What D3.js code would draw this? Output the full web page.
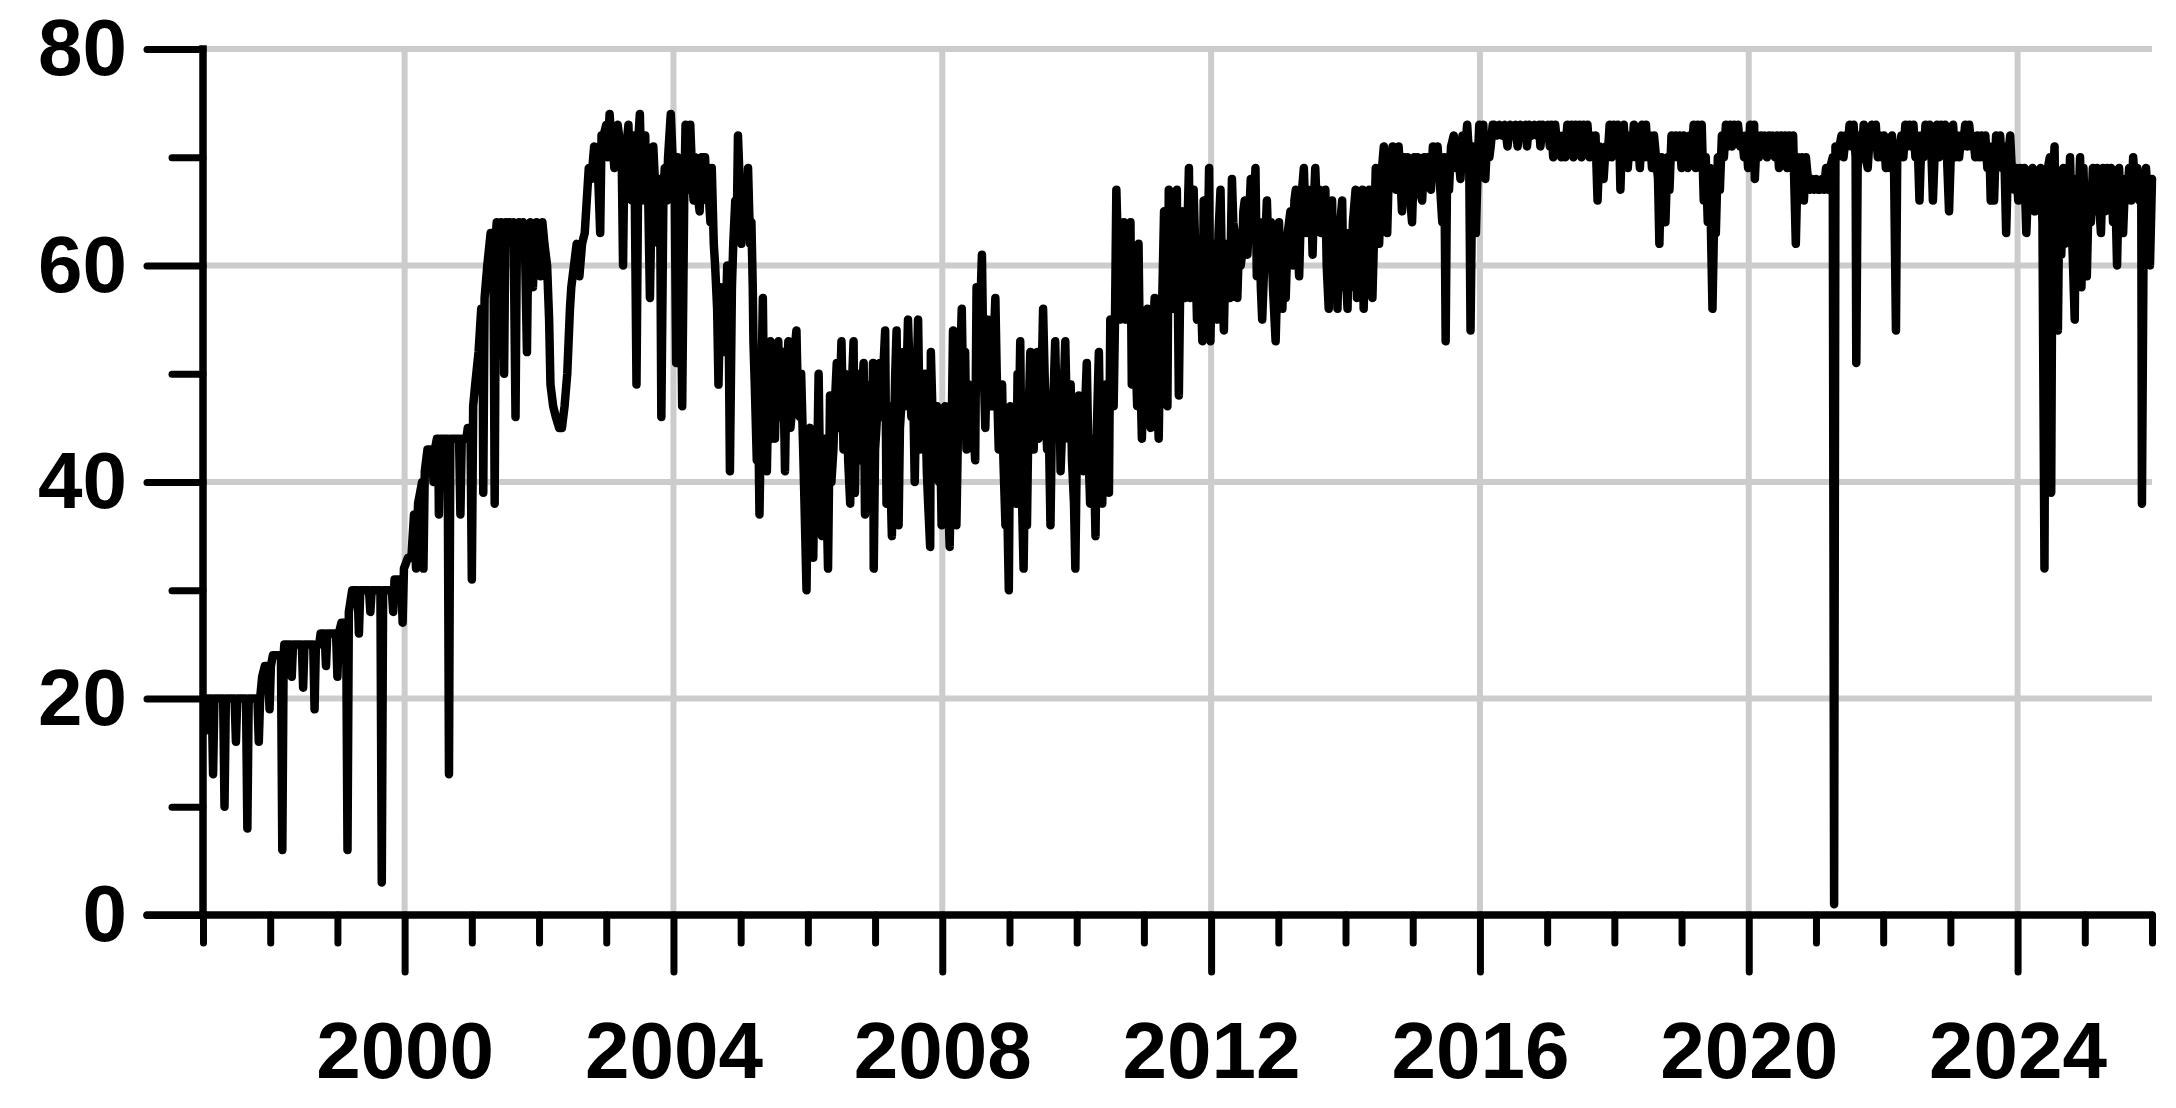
<!DOCTYPE html>
<html>
<head>
<meta charset="utf-8">
<script src="https://cdn.jsdelivr.net/npm/d3@7"></script>
<style>
  html, body { margin: 0; padding: 0; background: #ffffff; }
  svg { display: block; }
  text { font-family: "Liberation Sans", Arial, sans-serif; font-weight: bold; }
</style>
</head>
<body>
<svg id="chart" width="2176" height="1108"></svg>
<script>
// ---- Data: [decimal year, value] ----
const obs1997_1999 = [
  [1997.03,17],[1997.05,18],[1997.07,20],[1997.13,20],[1997.15,13],[1997.17,20],[1997.30,20],[1997.32,10],[1997.34,20],
  [1997.47,20],[1997.49,16],[1997.51,20],[1997.64,20],[1997.66,8],[1997.68,20],[1997.81,20],[1997.83,16],[1997.85,20],
  [1997.88,22],[1997.92,23],[1997.97,23],[1997.99,19],[1998.01,23],[1998.04,24],[1998.16,24],[1998.18,6],[1998.20,24],
  [1998.21,25],[1998.30,25],[1998.32,22],[1998.34,25],[1998.47,25],[1998.49,21],[1998.51,25],[1998.64,25],[1998.66,19],
  [1998.68,25],[1998.73,25],[1998.75,26],[1998.81,26],[1998.83,23],[1998.85,26],[1998.98,26],[1999.00,22],[1999.02,26],
  [1999.06,27],[1999.13,27],[1999.15,6],[1999.17,28],[1999.22,30],[1999.30,30],[1999.32,26],[1999.34,30],[1999.47,30],
  [1999.49,28],[1999.51,30],[1999.64,30],[1999.66,3],[1999.68,30],[1999.81,30],[1999.83,28],[1999.85,31],[1999.95,31],
  [1999.97,27],[1999.99,32]
];
const obs2000_2001 = [
  [2000.05,33],[2000.10,33],[2000.14,37],[2000.17,32],[2000.20,38],[2000.26,40],[2000.28,32],[2000.30,41],[2000.34,43],
  [2000.41,43],[2000.43,40],[2000.45,43],[2000.48,44],[2000.50,44],[2000.51,37],[2000.53,44],[2000.64,44],[2000.66,13],
  [2000.68,44],[2000.81,44],[2000.83,37],[2000.85,44],[2000.92,44],[2000.94,45],[2000.98,45],[2001.00,31],[2001.02,47],
  [2001.05,49],[2001.10,52],[2001.14,56],[2001.16,56],[2001.17,39],[2001.19,57],[2001.23,60],[2001.28,63],[2001.32,63],
  [2001.34,38],[2001.36,63],[2001.37,64],[2001.40,62],[2001.43,64],[2001.46,63],[2001.48,50],[2001.50,64],[2001.53,62],
  [2001.56,64],[2001.59,62],[2001.62,64],[2001.65,46],[2001.67,62],[2001.70,64],[2001.73,62],[2001.76,64],[2001.79,62],
  [2001.82,52],[2001.84,62],[2001.87,64],[2001.89,62],[2001.91,58],[2001.93,62],[2001.96,64],[2001.98,63],[2002.02,59],
  [2002.05,64],[2002.08,62]
];
const obs2002_2004 = [
  [2002.12,60],[2002.15,55],[2002.17,49],[2002.21,47],[2002.25,46],[2002.30,45],[2002.34,45],[2002.38,47],[2002.42,50],
  [2002.46,56],[2002.48,58],[2002.52,60],[2002.56,62],[2002.60,59],[2002.64,62],[2002.68,63],[2002.71,66],[2002.74,69],
  [2002.78,68],[2002.82,71],[2002.87,70],[2002.91,63],[2002.93,72],[2002.96,72],[2003.00,73],[2003.02,70],[2003.05,74],
  [2003.07,72],[2003.10,71],[2003.12,69],[2003.15,72],[2003.17,73],[2003.19,72],[2003.23,70],[2003.25,60],[2003.27,70],
  [2003.30,71],[2003.33,73],[2003.35,68],[2003.38,66],[2003.40,72],[2003.42,70],[2003.45,49],[2003.48,72],[2003.50,74],
  [2003.53,66],[2003.56,70],[2003.58,72],[2003.60,66],[2003.62,68],[2003.65,57],[2003.68,68],[2003.70,71],[2003.73,67],
  [2003.75,64],[2003.78,62],[2003.80,68],[2003.82,46],[2003.85,66],[2003.87,69],[2003.90,66],[2003.92,70],[2003.94,72],
  [2003.96,74],[2004.00,68],[2004.02,66],[2004.04,51],[2004.06,70],[2004.08,68],[2004.10,66],[2004.13,47],[2004.16,66],
  [2004.18,73],[2004.20,70],[2004.22,67],[2004.25,73],[2004.28,68],[2004.30,66],[2004.32,70],[2004.35,68],[2004.37,66],
  [2004.39,65],[2004.42,70]
];
const obs2004_2008 = [
  [2004.47,70],[2004.50,66],[2004.52,67],[2004.55,64],[2004.57,69],[2004.60,62],[2004.62,60],[2004.65,56],[2004.67,49],
  [2004.70,58],[2004.72,57],[2004.74,52],[2004.77,53],[2004.80,60],[2004.82,56],[2004.84,41],[2004.87,58],[2004.89,62],
  [2004.92,66],[2004.94,63],[2004.96,72],[2004.99,67],[2005.01,62],[2005.03,68],[2005.06,67],[2005.09,63],[2005.11,69],
  [2005.14,62],[2005.16,64],[2005.18,58],[2005.19,53],[2005.21,49],[2005.24,42],[2005.26,47],[2005.28,37],[2005.30,45],
  [2005.33,57],[2005.35,46],[2005.37,50],[2005.39,41],[2005.41,48],[2005.44,53],[2005.46,44],[2005.48,50],[2005.51,44],
  [2005.53,49],[2005.56,53],[2005.58,46],[2005.61,46],[2005.63,52],[2005.66,41],[2005.68,49],[2005.71,53],[2005.74,45],
  [2005.77,47],[2005.80,52],[2005.83,54],[2005.85,48],[2005.88,46],[2005.90,50],[2005.93,43],[2005.95,38],[2005.98,30],
  [2006.00,41],[2006.03,45],[2006.05,36],[2006.08,33],[2006.10,42],[2006.13,38],[2006.16,50],[2006.18,41],[2006.21,35],
  [2006.23,44],[2006.26,44],[2006.28,38],[2006.30,32],[2006.33,48],[2006.35,40],[2006.38,43],[2006.40,47],[2006.43,51],
  [2006.46,45],[2006.48,49],[2006.50,53],[2006.53,43],[2006.55,50],[2006.58,48],[2006.60,42],[2006.63,38],[2006.65,48],
  [2006.68,53],[2006.70,39],[2006.73,50],[2006.75,46],[2006.78,42],[2006.80,48],[2006.83,51],[2006.85,37],[2006.88,47],
  [2006.90,44],[2006.93,49],[2006.95,45],[2006.97,51],[2006.98,32],[2007.00,43],[2007.02,45],[2007.05,49],[2007.07,51],
  [2007.10,46],[2007.12,50],[2007.15,54],[2007.17,38],[2007.19,45],[2007.21,47],[2007.23,40],[2007.25,35],[2007.28,44],
  [2007.30,50],[2007.32,54],[2007.35,36],[2007.37,45],[2007.40,48],[2007.42,52],[2007.44,47],[2007.47,50],[2007.49,55],
  [2007.52,49],[2007.54,46],[2007.56,51],[2007.59,40],[2007.61,47],[2007.64,55],[2007.67,43],[2007.69,48],[2007.72,45],
  [2007.74,50],[2007.77,41],[2007.79,38],[2007.82,34],[2007.83,52],[2007.86,45],[2007.89,42],[2007.92,47],[2007.95,40],
  [2007.97,44],[2007.99,36],[2008.02,43],[2008.04,47],[2008.07,40],[2008.09,38],[2008.11,34],[2008.14,45],[2008.16,54],
  [2008.19,44],[2008.21,36],[2008.24,47],[2008.26,50],[2008.29,56],[2008.31,48],[2008.34,52],[2008.36,43],[2008.39,49],
  [2008.41,45],[2008.44,48],[2008.47,44],[2008.49,42],[2008.51,58],[2008.54,52],[2008.56,55],[2008.59,61],[2008.61,52],
  [2008.64,45],[2008.66,50],[2008.68,55],[2008.71,47]
];
const obs2008_2012 = [
  [2008.74,47],[2008.76,52],[2008.79,57],[2008.81,50],[2008.84,43],[2008.86,46],[2008.89,49],[2008.91,42],[2008.94,36],
  [2008.96,40],[2008.99,30],[2009.01,47],[2009.04,40],[2009.06,45],[2009.08,44],[2009.10,38],[2009.12,50],[2009.14,45],
  [2009.16,53],[2009.18,40],[2009.21,32],[2009.23,41],[2009.26,36],[2009.28,45],[2009.31,52],[2009.33,46],[2009.36,43],
  [2009.38,48],[2009.41,52],[2009.43,44],[2009.46,45],[2009.48,50],[2009.50,56],[2009.53,48],[2009.56,43],[2009.58,47],
  [2009.61,36],[2009.63,45],[2009.66,49],[2009.68,53],[2009.70,47],[2009.72,45],[2009.74,50],[2009.76,41],[2009.79,46],
  [2009.81,49],[2009.83,53],[2009.85,47],[2009.87,44],[2009.89,46],[2009.91,49],[2009.93,42],[2009.96,38],[2009.98,32],
  [2010.00,42],[2010.03,48],[2010.05,44],[2010.08,47],[2010.10,41],[2010.12,46],[2010.15,51],[2010.17,44],[2010.20,38],
  [2010.22,43],[2010.25,44],[2010.28,35],[2010.30,45],[2010.33,52],[2010.35,44],[2010.38,38],[2010.40,45],[2010.43,49],
  [2010.45,42],[2010.48,39],[2010.50,55],[2010.52,50],[2010.55,47],[2010.57,55],[2010.59,67],[2010.62,60],[2010.65,55],
  [2010.67,59],[2010.70,64],[2010.73,55],[2010.75,62],[2010.78,60],[2010.80,64],[2010.82,49],[2010.84,55],[2010.86,58],
  [2010.88,51],[2010.90,47],[2010.92,62],[2010.94,52],[2010.97,44],[2010.99,50],[2011.01,52],[2011.03,47],[2011.05,56],
  [2011.08,50],[2011.10,45],[2011.12,51],[2011.14,54],[2011.16,57],[2011.19,50],[2011.22,44],[2011.24,52],[2011.27,56],
  [2011.30,65],[2011.32,55],[2011.35,47],[2011.37,67],[2011.40,60],[2011.42,56],[2011.45,63],[2011.47,59],[2011.49,67],
  [2011.52,48],[2011.54,58],[2011.56,62],[2011.58,65],[2011.61,57],[2011.63,58],[2011.65,64],[2011.67,69],[2011.69,57],
  [2011.72,63],[2011.74,67],[2011.77,60],[2011.79,55],[2011.81,61],[2011.83,62],[2011.85,57],[2011.87,53],[2011.89,66],
  [2011.92,60],[2011.94,58],[2011.97,69],[2011.99,53],[2012.01,60],[2012.04,62],[2012.06,58],[2012.09,55],[2012.11,63],
  [2012.14,67],[2012.16,60],[2012.19,54],[2012.21,60],[2012.24,62],[2012.26,58],[2012.28,57],[2012.31,68],[2012.33,64],
  [2012.35,63],[2012.37,60],[2012.39,57],[2012.42,63],[2012.44,60],[2012.46,61],[2012.48,65],[2012.50,66],[2012.52,62],
  [2012.54,61],[2012.57,65],[2012.59,68],[2012.62,63],[2012.64,66],[2012.66,69],[2012.68,59],[2012.70,62],[2012.72,64],
  [2012.74,58],[2012.76,55],[2012.79,60],[2012.81,63],[2012.83,66],[2012.86,60]
];
const obs2012_2016 = [
  [2012.89,64],[2012.92,58],[2012.96,53],[2012.99,60],[2013.01,64],[2013.04,58],[2013.06,56],[2013.09,62],[2013.11,57],
  [2013.14,63],[2013.18,65],[2013.21,60],[2013.24,66],[2013.26,67],[2013.29,62],[2013.31,59],[2013.34,66],[2013.38,69],
  [2013.41,63],[2013.44,67],[2013.46,63],[2013.49,66],[2013.51,61],[2013.53,66],[2013.55,69],[2013.58,64],[2013.61,67],
  [2013.63,63],[2013.66,66],[2013.70,67],[2013.72,60],[2013.75,56],[2013.77,63],[2013.80,66],[2013.82,58],[2013.84,60],
  [2013.86,64],[2013.88,56],[2013.91,63],[2013.95,66],[2013.97,58],[2014.00,60],[2014.03,56],[2014.05,63],[2014.08,58],
  [2014.11,64],[2014.15,67],[2014.17,57],[2014.20,64],[2014.22,60],[2014.25,67],[2014.27,56],[2014.30,63],[2014.33,60],
  [2014.35,67],[2014.38,62],[2014.40,57],[2014.43,64],[2014.45,69],[2014.48,65],[2014.50,62],[2014.53,68],[2014.57,71],
  [2014.60,66],[2014.62,63],[2014.65,70],[2014.67,68],[2014.70,71],[2014.73,68],[2014.75,67],[2014.79,71],[2014.82,68],
  [2014.84,65],[2014.87,70],[2014.90,68],[2014.92,70],[2014.95,67],[2014.99,64],[2015.02,70],[2015.05,68],[2015.07,70],
  [2015.10,67],[2015.14,66],[2015.17,70],[2015.20,68],[2015.22,70],[2015.25,68],[2015.27,67],[2015.30,71],[2015.33,69],
  [2015.37,71],[2015.40,68],[2015.44,64],[2015.47,70],[2015.49,53],[2015.51,68],[2015.54,67],[2015.57,71],[2015.61,72],
  [2015.64,69],[2015.67,71],[2015.71,68],[2015.74,72],[2015.77,70],[2015.81,73],[2015.84,70],[2015.86,54],[2015.89,71],
  [2015.92,68],[2015.94,63],[2015.97,70],[2015.99,73],[2016.02,71],[2016.05,73],[2016.08,68],[2016.11,72],[2016.14,70],
  [2016.16,71],[2016.19,73],[2016.21,73],[2016.25,72],[2016.29,73],[2016.33,72],[2016.37,73],[2016.41,71],[2016.45,73],
  [2016.49,72],[2016.53,73],[2016.56,71],[2016.60,73],[2016.64,72],[2016.68,73],[2016.70,71],[2016.73,73],[2016.77,72],
  [2016.81,73],[2016.85,72],[2016.88,73],[2016.90,71],[2016.93,73],[2016.97,72],[2017.01,73],[2017.04,71]
];
const obs2017_2020 = [
  [2017.06,73],[2017.09,70],[2017.12,73],[2017.15,71],[2017.18,72],[2017.21,70],[2017.24,72],[2017.27,70],[2017.30,73],
  [2017.33,71],[2017.36,73],[2017.39,70],[2017.42,73],[2017.45,71],[2017.48,73],[2017.51,70],[2017.54,73],[2017.57,71],
  [2017.60,73],[2017.63,70],[2017.66,72],[2017.69,70],[2017.72,72],[2017.75,66],[2017.78,71],[2017.81,70],[2017.84,68],
  [2017.87,71],[2017.90,70],[2017.93,73],[2017.96,70],[2017.99,73],[2018.02,71],[2018.05,73],[2018.08,70],[2018.09,67],
  [2018.11,71],[2018.14,73],[2018.17,70],[2018.20,69],[2018.23,72],[2018.26,70],[2018.29,73],[2018.32,70],[2018.35,72],
  [2018.38,69],[2018.41,73],[2018.44,70],[2018.47,73],[2018.50,70],[2018.53,72],[2018.56,69],[2018.59,72],[2018.62,70],
  [2018.65,68],[2018.67,62],[2018.70,70],[2018.73,68],[2018.76,64],[2018.79,70],[2018.82,67],[2018.85,72],[2018.88,70],
  [2018.91,72],[2018.94,70],[2018.97,72],[2019.00,69],[2019.03,72],[2019.06,70],[2019.09,69],[2019.12,72],[2019.15,70],
  [2019.18,73],[2019.21,69],[2019.24,73],[2019.27,70],[2019.30,73],[2019.33,66],[2019.36,70],[2019.39,64],[2019.42,69],
  [2019.46,56],[2019.49,66],[2019.51,63],[2019.54,70],[2019.57,67],[2019.60,72],[2019.63,70],[2019.66,73],[2019.69,71],
  [2019.72,73],[2019.75,71],[2019.78,73],[2019.81,72],[2019.84,73],[2019.87,71],[2019.90,72],[2019.93,70],[2019.96,72],
  [2019.99,69],[2020.02,73],[2020.05,70],[2020.08,73],[2020.09,68],[2020.12,72],[2020.15,70],[2020.18,72],[2020.21,71],
  [2020.24,72],[2020.27,70],[2020.30,72],[2020.33,71],[2020.36,72],[2020.39,70],[2020.42,72],[2020.45,69],[2020.48,72],
  [2020.51,70],[2020.54,72],[2020.57,69],[2020.60,72],[2020.63,69],[2020.66,72],[2020.70,62],[2020.73,70],[2020.76,68]
];
const obs2020_2023 = [
  [2020.79,70],[2020.82,66],[2020.85,70],[2020.88,68],[2020.91,67],[2020.94,68],[2020.97,67],[2021.00,68],[2021.03,67],
  [2021.06,67],[2021.09,68],[2021.12,67],[2021.15,69],[2021.18,67],[2021.21,69],[2021.25,70],[2021.27,1],[2021.29,71],
  [2021.32,70],[2021.35,71],[2021.38,72],[2021.41,70],[2021.44,72],[2021.47,71],[2021.50,73],[2021.53,71],[2021.56,73],
  [2021.59,70],[2021.60,51],[2021.62,69],[2021.65,72],[2021.68,70],[2021.71,73],[2021.74,70],[2021.77,69],[2021.80,72],
  [2021.83,73],[2021.86,71],[2021.89,73],[2021.92,70],[2021.95,72],[2021.98,70],[2022.01,72],[2022.04,69],[2022.07,71],
  [2022.10,69],[2022.13,72],[2022.16,70],[2022.19,54],[2022.21,71],[2022.24,70],[2022.27,72],[2022.30,70],[2022.33,73],
  [2022.36,71],[2022.39,73],[2022.42,71],[2022.45,73],[2022.48,70],[2022.51,72],[2022.54,66],[2022.57,72],[2022.60,70],
  [2022.63,73],[2022.66,71],[2022.69,73],[2022.72,70],[2022.74,66],[2022.77,71],[2022.80,73],[2022.83,70],[2022.86,73],
  [2022.89,71],[2022.92,73],[2022.95,70],[2022.98,65],[2023.01,71],[2023.04,73],[2023.07,70],[2023.10,72],[2023.13,70],
  [2023.16,72],[2023.19,71],[2023.22,73],[2023.25,71],[2023.28,73],[2023.31,71],[2023.34,72],[2023.37,70],[2023.40,72],
  [2023.43,70],[2023.46,72],[2023.49,70],[2023.52,72],[2023.55,69],[2023.58,71],[2023.60,66],[2023.62,71]
];
const obs2023_2026 = [
  [2023.65,66],[2023.68,72],[2023.71,70],[2023.74,72],[2023.77,69],[2023.80,71],[2023.83,63],[2023.86,70],[2023.89,72],
  [2023.92,68],[2023.95,67],[2023.98,69],[2024.01,66],[2024.04,69],[2024.07,66],[2024.10,69],[2024.13,63],[2024.16,68],
  [2024.19,66],[2024.22,69],[2024.25,65],[2024.28,68],[2024.31,66],[2024.34,69],[2024.37,64],[2024.40,32],[2024.42,68],
  [2024.45,69],[2024.48,70],[2024.50,39],[2024.52,67],[2024.55,71],[2024.57,62],[2024.60,54],[2024.62,66],[2024.65,61],
  [2024.68,69],[2024.70,62],[2024.73,68],[2024.76,64],[2024.78,70],[2024.81,63],[2024.85,55],[2024.87,68],[2024.90,64],
  [2024.93,70],[2024.95,58],[2024.98,69],[2025.01,62],[2025.03,59],[2025.06,67],[2025.09,64],[2025.12,69],[2025.15,65],
  [2025.18,69],[2025.21,66],[2025.24,63],[2025.27,69],[2025.30,65],[2025.33,69],[2025.36,66],[2025.39,69],[2025.42,64],
  [2025.45,68],[2025.48,60],[2025.51,69],[2025.54,65],[2025.57,63],[2025.60,68],[2025.63,66],[2025.66,69],[2025.69,66],
  [2025.72,70],[2025.75,67],[2025.78,69],[2025.81,66],[2025.84,68],[2025.85,38],[2025.88,67],[2025.91,69],[2025.94,66],
  [2025.97,60],[2026.00,68]
];

const yMajorTicks = [0, 20, 40, 60, 80];
const yMinorTicks = [10, 30, 50, 70];
const xMajorTicks = [2000, 2004, 2008, 2012, 2016, 2020, 2024];
const xMinorTicks = [1997, 1998, 1999, 2001, 2002, 2003, 2005, 2006, 2007, 2009, 2010, 2011,
                     2013, 2014, 2015, 2017, 2018, 2019, 2021, 2022, 2023, 2025, 2026];

const series = [].concat(obs1997_1999, obs2000_2001, obs2002_2004, obs2004_2008,
                         obs2008_2012, obs2012_2016, obs2017_2020, obs2020_2023, obs2023_2026);

// ---- Layout ----
const svg = d3.select("#chart");
const x = d3.scaleLinear().domain([1997, 2026]).range([203, 2152]);
const y = d3.scaleLinear().domain([0, 80]).range([915, 49]);

svg.append("rect").attr("width", 2176).attr("height", 1108).attr("fill", "#ffffff");

// Gridlines
const grid = svg.append("g").attr("stroke", "#cccccc").attr("stroke-width", 6);
grid.selectAll("line.h").data(yMajorTicks.filter(d => d > 0)).join("line")
  .attr("class", "h")
  .attr("x1", x(1997)).attr("x2", x(2026))
  .attr("y1", d => y(d)).attr("y2", d => y(d));
grid.selectAll("line.v").data(xMajorTicks).join("line")
  .attr("class", "v")
  .attr("x1", d => x(d)).attr("x2", d => x(d))
  .attr("y1", y(0)).attr("y2", y(80));

// Data line
const line = d3.line().x(d => x(d[0])).y(d => y(d[1]));
svg.append("path")
  .datum(series)
  .attr("d", line)
  .attr("fill", "none")
  .attr("stroke", "#000000")
  .attr("stroke-width", 8.5)
  .attr("stroke-linejoin", "round")
  .attr("stroke-linecap", "round");

// Axes
function styleAxis(g) {
  g.select(".domain").remove();
  g.selectAll(".tick line").attr("stroke", "#000").attr("stroke-width", 7).attr("stroke-linecap", "round");
  g.selectAll(".tick text").attr("fill", "#000").style("font-size", "80px")
    .style("font-family", '"Liberation Sans", Arial, sans-serif').style("font-weight", "bold");
}

svg.append("g").attr("transform", `translate(${x(1997)},0)`)
  .call(d3.axisLeft(y).tickValues(yMajorTicks).tickSize(56).tickPadding(20).tickFormat(d3.format("d")))
  .call(styleAxis);
svg.append("g").attr("transform", `translate(${x(1997)},0)`)
  .call(d3.axisLeft(y).tickValues(yMinorTicks).tickSize(31).tickFormat(""))
  .call(styleAxis);

const xg = svg.append("g").attr("transform", `translate(0,${y(0)})`)
  .call(d3.axisBottom(x).tickValues(xMajorTicks).tickSize(57).tickFormat(d3.format("d")))
  .call(styleAxis);
xg.selectAll(".tick text").attr("y", 163).attr("dy", 0);
svg.append("g").attr("transform", `translate(0,${y(0)})`)
  .call(d3.axisBottom(x).tickValues(xMinorTicks).tickSize(28).tickFormat(""))
  .call(styleAxis);

svg.append("line")
  .attr("x1", x(1997)).attr("x2", x(1997)).attr("y1", y(0)).attr("y2", y(80))
  .attr("stroke", "#000").attr("stroke-width", 7.5).attr("stroke-linecap", "square");
svg.append("line")
  .attr("x1", x(1997) - 56).attr("x2", x(2026)).attr("y1", y(0)).attr("y2", y(0))
  .attr("stroke", "#000").attr("stroke-width", 7.5).attr("stroke-linecap", "round");
</script>
</body>
</html>
